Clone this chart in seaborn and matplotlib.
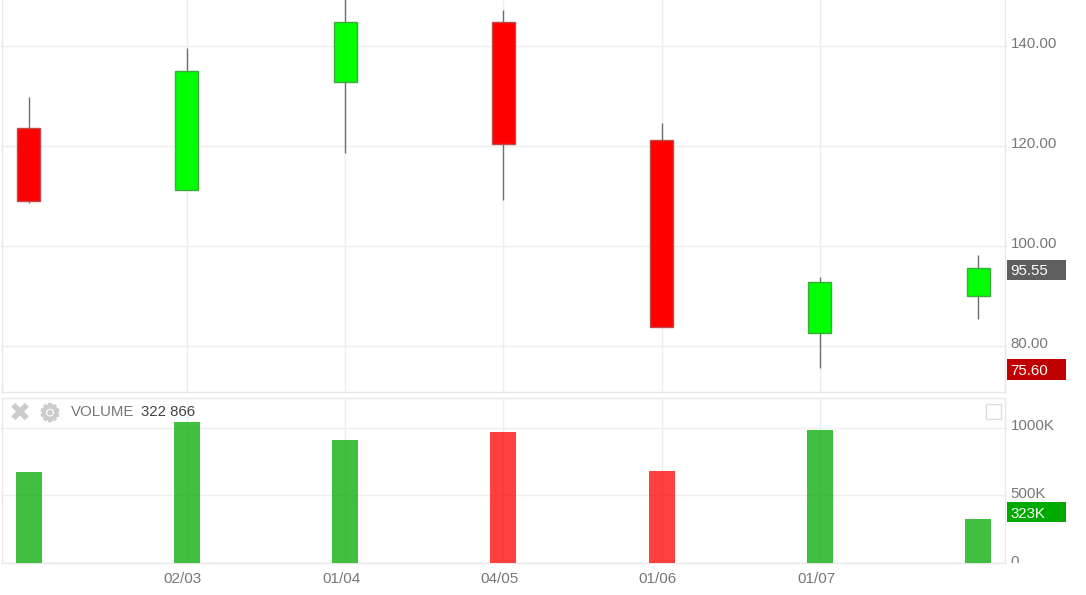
import matplotlib
matplotlib.use("Agg")
import matplotlib.pyplot as plt
import matplotlib.patheffects as pe
import seaborn as sns
from matplotlib.patches import Rectangle
from matplotlib.transforms import Bbox, ScaledTranslation

# months, the first and last candle have no label on the axis
months = ["01/02", "02/03", "01/04", "04/05", "01/06", "01/07", "01/08"]
month_labels = ["", "02/03", "01/04", "04/05", "01/06", "01/07", ""]

opens = [123.6, 111.2, 132.8, 144.8, 121.2, 82.6, 90.0]
closes = [109.0, 135.0, 144.8, 120.4, 83.8, 92.8, 95.55]
highs = [129.8, 139.6, 153.0, 147.2, 124.6, 93.8, 98.2]
lows = [108.6, 111.2, 118.6, 109.2, 83.8, 75.6, 85.4]
volumes = [674, 1044, 911, 970, 681, 985, 323]
volume_up = [True, True, True, False, False, True, True]

price_ticks = [80, 100, 120, 140]
volume_ticks = [0, 500, 1000]
volume_tick_labels = ["0", "500K", "1000K"]

W, H = 1086, 595
GREY = "#777777"
GRID = "#eeeeee"

sns.set_theme(style="white")
plt.rcParams["font.family"] = ["Liberation Sans", "DejaVu Sans"]

fig = plt.figure(figsize=(W / 100, H / 100), dpi=100)


def axes_px(left, top, right, bottom):
    return fig.add_axes([left / W, 1 - bottom / H, (right - left) / W, (bottom - top) / H])


def px_rect(left, top, right, bottom, **kws):
    fig.add_artist(Rectangle((left / W, 1 - bottom / H), (right - left) / W, (bottom - top) / H,
                             transform=fig.transFigure, **kws))


def price_tag(text, top, bottom, color):
    px_rect(1007, top, 1066, bottom, facecolor=color, edgecolor="none")
    fig.text(1010 / W, 1 - (top + bottom) / 2 / H, text, color="white", fontsize=10.8,
             ha="left", va="center_baseline")


def style_axes(ax):
    ax.grid(True, color=GRID, linewidth=1)
    ax.set_axisbelow(True)
    ax.set_xlim(-0.168, 6.169)
    ax.set_xlabel("")
    ax.set_ylabel("")
    ax.yaxis.tick_right()
    for spine in ax.spines.values():
        spine.set_color("#e8e8e8")
        spine.set_linewidth(1)


def draw_candles(ax, up):
    idx = [i for i in range(len(months)) if (closes[i] >= opens[i]) == up]
    sns.barplot(x=[months[i] for i in idx], y=[abs(closes[i] - opens[i]) for i in idx],
                bottom=[min(opens[i], closes[i]) for i in idx], order=months, ax=ax,
                color="#00ff00" if up else "#ff0000", saturation=1, width=0.145,
                edgecolor="#3caa3c" if up else "#c04848", linewidth=1, zorder=3)


def draw_volume(ax, up):
    idx = [i for i in range(len(months)) if volume_up[i] == up]
    sns.barplot(x=[months[i] for i in idx], y=[volumes[i] for i in idx], order=months, ax=ax,
                color="#00aa00" if up else "#ff0000", saturation=1, width=0.165, alpha=0.75,
                linewidth=0, zorder=3)


# price panel
ax = axes_px(2, -1, 1005, 392)
ax.vlines(range(len(months)), lows, highs, color="#6e6e6e", linewidth=1, zorder=2)
draw_candles(ax, True)
draw_candles(ax, False)
style_axes(ax)
ax.set_ylim(70.8, 149.4)
ax.spines["top"].set_visible(False)
ax.set_yticks(price_ticks)
ax.set_yticklabels([f"{t:.2f}" for t in price_ticks])
ax.set_xticks(range(len(months)))
ax.tick_params(axis="x", length=0, labelbottom=False)
ax.tick_params(axis="y", length=0, pad=4, labelsize=10.8, labelcolor=GREY)

# volume panel
ax2 = axes_px(2, 398, 1005, 563)
draw_volume(ax2, True)
draw_volume(ax2, False)
style_axes(ax2)
ax2.set_ylim(0, 1222)
ax2.set_yticks(volume_ticks)
ax2.set_yticklabels(volume_tick_labels)
ax2.set_xticks(range(len(months)))
ax2.set_xticklabels(month_labels)
ax2.tick_params(axis="x", length=0, pad=6.5, labelsize=11, labelcolor=GREY)
ax2.tick_params(axis="y", length=0, pad=4, labelsize=10.8, labelcolor=GREY)

# no vertical grid line at the first and last candle
for axis in (ax, ax2):
    for line, label in zip(axis.get_xgridlines(), month_labels):
        line.set_visible(label != "")

up_shift = ScaledTranslation(0, 3 / 100, fig.dpi_scale_trans)
for axis in (ax, ax2):
    for label in axis.get_yticklabels():
        label.set_transform(label.get_transform() + up_shift)
left_shift = ScaledTranslation(-4 / 100, 0, fig.dpi_scale_trans)
for label in ax2.get_xticklabels():
    label.set_transform(label.get_transform() + left_shift)

# the zero label is cut off at the panel bottom
zero_label = ax2.get_yticklabels()[0]
zero_label.set_clip_on(True)
zero_label.set_clip_box(Bbox([[1005, H - 563], [1086, H - 398]]))

# panel header
fig.text(19.5 / W, 1 - 414 / H, "\u2716", color="#cccccc", fontsize=19, ha="center", va="center",
         family="DejaVu Sans")
gear = fig.text(50 / W, 1 - 414 / H, "\u2699", color="#cccccc", fontsize=17, ha="center", va="center",
                family="DejaVu Sans")
gear.set_path_effects([pe.withStroke(linewidth=1.5, foreground="#cccccc")])
fig.text(71 / W, 1 - 412 / H, "VOLUME", color=GREY, fontsize=10.8, ha="left", va="center")
fig.text(141 / W, 1 - 412 / H, "322 866", color="#444444", fontsize=10.8, ha="left", va="center")
px_rect(986, 404, 1001, 419, facecolor="white", edgecolor="#dddddd", linewidth=1)

price_tag("95.55", 260, 280, "#5f5f5f")
price_tag("75.60", 359, 380, "#c00000")
price_tag("323K", 502, 522, "#00aa00")

fig.savefig("out.png", dpi=100)
